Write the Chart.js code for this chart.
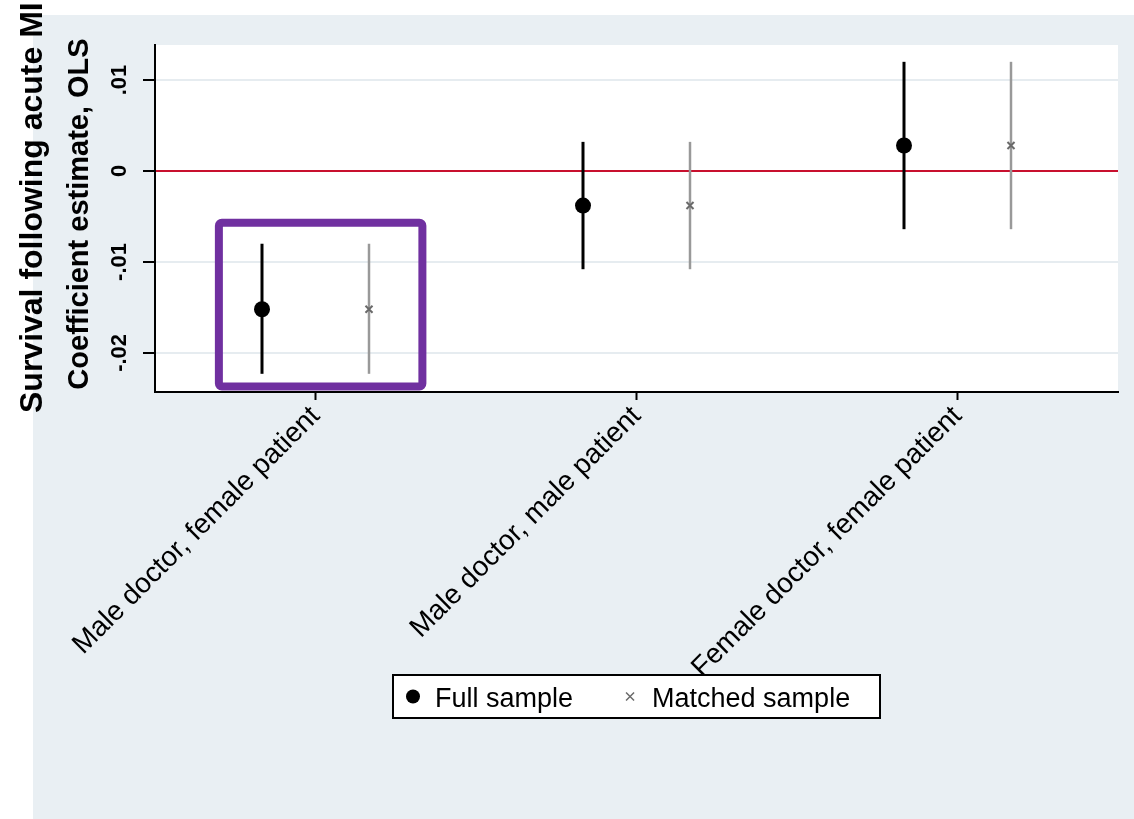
<!DOCTYPE html>
<html>
<head>
<meta charset="utf-8">
<script src="https://cdn.jsdelivr.net/npm/chart.js@4.4.1/dist/chart.umd.min.js"></script>
<style>
    html, body { margin: 0; padding: 0; background: #ffffff; }
    #wrap { width: 1134px; height: 819px; position: relative; }
</style>
</head>
<body>
<div id="wrap"><canvas id="coefChart"></canvas></div>
<script>
const categories = ['Male doctor, female patient', 'Male doctor, male patient', 'Female doctor, female patient'];
const fullEst = [-0.0152, -0.0038, 0.0028];
const fullLow = [-0.0223, -0.0108, -0.0064];
const fullHigh = [-0.0080, 0.0032, 0.0120];
const matchedEst = [-0.0152, -0.0038, 0.0028];
const matchedLow = [-0.0223, -0.0108, -0.0064];
const matchedHigh = [-0.0080, 0.0032, 0.0120];
const yTickValues = [-0.02, -0.01, 0, 0.01];
const yTickLabels = ['-.02', '-.01', '0', '.01'];
const seriesNames = ['Full sample', 'Matched sample'];

document.addEventListener('DOMContentLoaded', function () {
    const font = "'Liberation Sans', Arial, sans-serif";
    const panelColor = '#e9eff3';
    const dodge = 1 / 6;

    // purple highlight around the first group (value units)
    const highlight = { cat: 0, left: -0.301, right: 0.333, top: -0.0057, bottom: -0.0237 };

    const points = (est, shift) => est.map((v, i) => ({ x: i + 1 + shift, y: v }));

    const backgroundPlugin = {
        id: 'panels',
        beforeDraw(chart) {
            const { ctx, chartArea: a } = chart;
            ctx.save();
            ctx.fillStyle = '#ffffff';
            ctx.fillRect(0, 0, chart.width, chart.height);
            ctx.fillStyle = panelColor;
            ctx.fillRect(33, 15, chart.width - 33, chart.height - 15);
            ctx.fillStyle = '#ffffff';
            ctx.fillRect(a.left, a.top, a.right - a.left, a.bottom - a.top);
            ctx.restore();
        }
    };

    const errorBarPlugin = {
        id: 'errorBars',
        beforeDatasetsDraw(chart) {
            const { ctx, scales: { x, y } } = chart;
            chart.data.datasets.forEach(ds => {
                ctx.save();
                ctx.strokeStyle = ds.barColor;
                ctx.lineWidth = ds.barWidth;
                ds.data.forEach((p, i) => {
                    const px = x.getPixelForValue(p.x);
                    ctx.beginPath();
                    ctx.moveTo(px, y.getPixelForValue(ds.low[i]));
                    ctx.lineTo(px, y.getPixelForValue(ds.high[i]));
                    ctx.stroke();
                });
                ctx.restore();
            });
        }
    };

    const decorPlugin = {
        id: 'decor',
        afterDraw(chart) {
            const { ctx, chartArea: a, scales: { x, y } } = chart;
            ctx.save();

            // highlight box
            const hx1 = x.getPixelForValue(highlight.cat + 1 + highlight.left);
            const hx2 = x.getPixelForValue(highlight.cat + 1 + highlight.right);
            const hy1 = y.getPixelForValue(highlight.top);
            const hy2 = y.getPixelForValue(highlight.bottom);
            ctx.strokeStyle = '#7030a0';
            ctx.lineWidth = 8;
            ctx.beginPath();
            ctx.roundRect(hx1, hy1, hx2 - hx1, hy2 - hy1, 3);
            ctx.stroke();

            // rotated y tick labels
            ctx.fillStyle = '#000';
            ctx.font = 'bold 22px ' + font;
            ctx.textAlign = 'center';
            ctx.textBaseline = 'alphabetic';
            yTickValues.forEach((v, i) => {
                ctx.save();
                ctx.translate(126, y.getPixelForValue(v));
                ctx.rotate(-Math.PI / 2);
                ctx.fillText(yTickLabels[i], 0, 0);
                ctx.restore();
            });

            // axis titles
            ctx.save();
            ctx.font = 'bold 29px ' + font;
            ctx.translate(88, 214);
            ctx.rotate(-Math.PI / 2);
            ctx.fillText('Coefficient estimate, OLS', 0, 0);
            ctx.restore();

            ctx.save();
            ctx.font = 'bold 32px ' + font;
            ctx.textAlign = 'left';
            ctx.translate(42, 413);
            ctx.rotate(-Math.PI / 2);
            ctx.fillText('Survival following acute MI', 0, 0);
            ctx.restore();

            // boxed legend under the plot
            const cx = (a.left + a.right) / 2;
            const boxW = 487, boxH = 43, boxTop = 675;
            const boxLeft = cx - boxW / 2;
            ctx.fillStyle = '#ffffff';
            ctx.fillRect(boxLeft, boxTop, boxW, boxH);
            ctx.strokeStyle = '#000';
            ctx.lineWidth = 2;
            ctx.strokeRect(boxLeft, boxTop, boxW, boxH);

            ctx.font = '27px ' + font;
            ctx.textAlign = 'left';
            const midY = boxTop + boxH / 2;
            let lx = boxLeft + 20;
            chart.data.datasets.forEach((ds, i) => {
                if (ds.pointStyle === 'circle') {
                    ctx.fillStyle = '#000';
                    ctx.beginPath();
                    ctx.arc(lx, midY, 7, 0, Math.PI * 2);
                    ctx.fill();
                } else {
                    ctx.strokeStyle = ds.borderColor;
                    ctx.lineWidth = 1.5;
                    ctx.beginPath();
                    ctx.moveTo(lx - 4, midY - 4); ctx.lineTo(lx + 4, midY + 4);
                    ctx.moveTo(lx + 4, midY - 4); ctx.lineTo(lx - 4, midY + 4);
                    ctx.stroke();
                }
                ctx.fillStyle = '#000';
                ctx.fillText(ds.label, lx + 22, boxTop + 32);
                lx += 22 + ctx.measureText(ds.label).width + 57;
            });

            ctx.restore();
        }
    };

    const ctx = document.getElementById('coefChart').getContext('2d');
    new Chart(ctx, {
        type: 'scatter',
        data: {
            datasets: [{
                label: seriesNames[0],
                data: points(fullEst, -dodge),
                low: fullLow,
                high: fullHigh,
                barColor: '#000000',
                barWidth: 3,
                pointStyle: 'circle',
                pointRadius: 8,
                backgroundColor: '#000000',
                borderColor: '#000000',
                borderWidth: 0
            }, {
                label: seriesNames[1],
                data: points(matchedEst, dodge),
                low: matchedLow,
                high: matchedHigh,
                barColor: '#999999',
                barWidth: 2.5,
                pointStyle: 'crossRot',
                pointRadius: 5,
                backgroundColor: '#6a6a6a',
                borderColor: '#6a6a6a',
                borderWidth: 2
            }]
        },
        options: {
            responsive: true,
            maintainAspectRatio: false,
            animation: false,
            layout: { padding: { top: 45, right: 16, left: 0, bottom: 0 } },
            plugins: {
                legend: { display: false },
                tooltip: { enabled: false }
            },
            scales: {
                x: {
                    type: 'linear',
                    min: 0.5,
                    max: 3.5,
                    afterBuildTicks: scale => {
                        scale.ticks = categories.map((c, i) => ({ value: i + 1 }));
                    },
                    afterFit: scale => { scale.height = 427; },
                    ticks: {
                        autoSkip: false,
                        minRotation: 45,
                        maxRotation: 45,
                        padding: 0,
                        color: '#000',
                        font: { family: font, size: 28 },
                        callback: v => categories[v - 1]
                    },
                    grid: {
                        drawOnChartArea: false,
                        tickLength: 8,
                        tickColor: '#000',
                        tickWidth: 2
                    },
                    border: { color: '#000', width: 2 }
                },
                y: {
                    min: -0.0243,
                    max: 0.01385,
                    afterBuildTicks: scale => {
                        scale.ticks = yTickValues.map(v => ({ value: v }));
                    },
                    afterFit: scale => { scale.width = 155; },
                    ticks: { display: false },
                    grid: {
                        color: c => (c.tick && c.tick.value === 0) ? '#c8102e' : '#e6ecf0',
                        lineWidth: 2,
                        tickLength: 12,
                        tickColor: '#000',
                        tickWidth: 2
                    },
                    border: { color: '#000', width: 2 }
                }
            }
        },
        plugins: [backgroundPlugin, errorBarPlugin, decorPlugin]
    });
});
</script>
</body>
</html>
